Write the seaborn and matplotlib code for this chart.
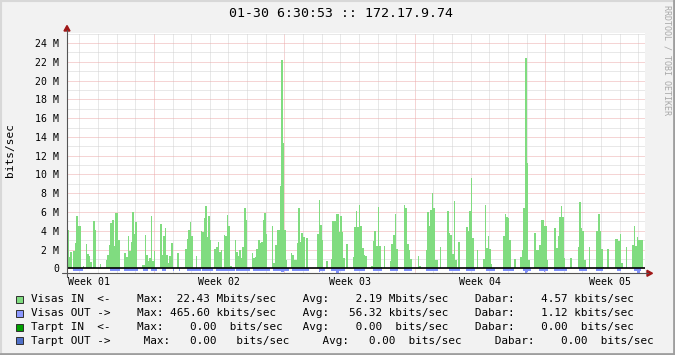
import numpy as np
import pandas as pd
import matplotlib
matplotlib.use("Agg")
import matplotlib.pyplot as plt
import matplotlib.transforms as mtransforms
from matplotlib.patches import Rectangle, Polygon
from matplotlib.lines import Line2D
import seaborn as sns

# ---------------- data (Mbit/s, 2-hour bins, 12 bins per day row) ----------------
BIN_HOURS = 2
visas_in_days = [
    [4.1, 1.2, 1.7, 0, 1.8, 2.7, 5.6, 4.5, 4.5, 0, 0.3, 0],
    [2.6, 1.5, 1.3, 0.7, 0, 5.0, 4.1, 0, 0, 0.5, 0, 0],
    [0, 0.9, 1.4, 2.5, 4.8, 5.2, 2.4, 5.9, 5.9, 3.0, 0, 0],
    [0, 1.6, 1.2, 3.4, 1.8, 2.8, 6.0, 3.7, 4.9, 0, 0, 0],
    [0.35, 0.35, 3.5, 1.4, 0.8, 1.1, 5.6, 0.8, 1.8, 0, 0, 0],
    [4.7, 1.4, 3.4, 4.25, 1.4, 0.6, 1.3, 2.7, 0, 0, 0, 1.6],
    [0, 0, 0, 0, 2.1, 3.1, 4.1, 4.9, 3.4, 0, 0, 1.3],
    [0, 0, 4.0, 3.9, 5.4, 6.6, 3.3, 5.6, 3.0, 0, 0, 2.1],
    [2.3, 2.8, 1.7, 1.9, 0, 3.5, 3.4, 5.7, 4.5, 0.2, 0, 0],
    [3.0, 1.7, 1.3, 1.9, 1.1, 2.3, 6.4, 5.2, 0, 0, 0, 1.6],
    [1.1, 1.2, 2.1, 3.0, 2.7, 2.8, 5.1, 5.9, 3.7, 0, 0, 0],
    [4.5, 0.6, 2.5, 4.1, 4.1, 8.75, 22.2, 13.3, 4.1, 0.9, 0, 0],
    [1.6, 1.4, 0.9, 0.9, 2.7, 6.4, 2.8, 3.8, 3.3, 0, 3.2, 0],
    [0, 0, 0, 0, 0, 3.7, 7.3, 4.6, 3.0, 0, 0, 0.8],
    [0, 0, 1.0, 5.0, 5.0, 5.8, 5.8, 3.9, 5.6, 3.9, 1.1, 0],
    [2.6, 0, 0, 0, 1.2, 4.4, 6.1, 4.4, 6.7, 4.5, 2.2, 1.4],
    [1.3, 0, 0, 0, 0.25, 2.9, 4.0, 2.4, 6.5, 2.4, 0.1, 0],
    [2.4, 0, 0, 0, 0.8, 2.6, 3.5, 5.8, 2.1, 0.1, 0, 0],
    [0, 6.7, 6.4, 2.6, 2.0, 1.0, 0, 0, 0, 0, 1.3, 0.25],
    [0, 0, 0, 1.95, 6.0, 4.5, 6.2, 8.0, 6.4, 0.9, 0.9, 0],
    [2.3, 0, 0, 0, 0, 6.1, 3.8, 3.5, 1.5, 7.2, 0.9, 0],
    [2.8, 0, 0, 0, 0, 4.4, 4.0, 6.1, 9.6, 3.2, 0, 0],
    [1.95, 0, 0, 0, 1.0, 6.7, 2.2, 3.4, 2.1, 0.5, 0, 0],
    [0, 0, 0, 0, 0, 3.4, 5.8, 5.5, 5.4, 3.0, 0, 0],
    [1.0, 0, 0, 0, 1.2, 2.0, 6.4, 22.43, 11.2, 0.9, 0, 0],
    [0, 3.8, 2.0, 2.0, 2.5, 5.1, 5.1, 4.5, 4.5, 0.9, 0, 0],
    [0, 0, 4.25, 2.2, 3.4, 5.5, 6.6, 5.5, 1.1, 0, 0, 0],
    [1.1, 0, 0, 0, 0, 2.3, 7.1, 4.25, 4.0, 0.9, 0, 0],
    [2.3, 0, 0, 0, 0, 4.0, 5.8, 4.0, 2.1, 0.1, 0, 0],
    [2.1, 0, 0, 0, 0, 3.1, 3.1, 2.9, 3.7, 0.6, 0, 0],
    [2.3, 0, 0, 0, 2.5, 4.5, 2.4, 3.3, 3.0, 3.0, 3.0, 0],
]
visas_out_days = [
    [0, 0, 0, 0, .24, .24, .24, .24, .24, .24, 0, 0],
    [0, 0, 0, 0, 0, 0, 0, 0, 0, 0, 0, 0],
    [0, 0, 0, 0, .24, .24, .24, .24, .24, .24, 0, 0],
    [0, .24, .24, .24, .24, .24, .24, .24, .24, .24, 0, 0],
    [0, .24, .24, .24, 0, 0, .24, .24, .24, .24, 0, 0],
    [0, .24, .24, .24, 0, 0, 0, 0, .24, 0, 0, 0],
    [.24, 0, 0, 0, 0, .24, .24, .24, .24, .24, .24, .24],
    [.24, .24, 0, .24, .24, .24, .24, .24, .24, .24, 0, 0],
    [.24, .24, .24, .24, .24, .24, .24, .32, .24, .24, .24, .24],
    [0, .24, .24, .24, .24, .24, .24, .24, .24, .24, 0, 0],
    [.24, .24, .24, .24, .24, .24, .24, .24, .24, .24, .24, 0],
    [0, .24, .24, .24, .24, .24, .42, .42, .24, .24, .24, 0],
    [0, .24, .24, .24, .24, .24, .24, .24, .24, .24, .24, .24],
    [0, 0, 0, 0, 0, 0, .36, .24, .24, .24, 0, 0],
    [0, 0, .24, .24, .24, .46, .46, .24, .24, .24, .24, 0],
    [0, 0, 0, 0, 0, .24, .24, .24, .24, .24, .24, .24],
    [0, 0, 0, 0, 0, .24, .24, .24, .24, .24, .24, 0],
    [0, 0, 0, 0, .24, .24, .24, .24, .24, 0, 0, 0],
    [0, .24, .24, .24, .24, .24, 0, 0, 0, 0, 0, 0],
    [0, 0, 0, .24, .24, .24, .24, .24, .24, .24, .24, 0],
    [0, 0, 0, 0, 0, 0, .24, .24, .24, .24, .24, .24],
    [.24, 0, 0, 0, 0, .24, .24, .24, .24, .24, .24, 0],
    [0, 0, 0, 0, 0, 0, .24, .24, .24, .24, .24, .24],
    [0, 0, 0, 0, 0, .24, .24, .24, .24, .24, .24, .24],
    [0, 0, 0, 0, 0, 0, .24, .4656, .34, .24, .24, 0],
    [0, 0, 0, 0, .24, .24, .24, .34, .24, .24, 0, 0],
    [0, 0, .24, .24, .24, .24, .24, .24, .24, .24, 0, 0],
    [0, 0, 0, 0, 0, 0, .24, .24, .24, .24, .24, 0],
    [0, 0, 0, 0, 0, .32, .24, .24, .24, 0, 0, 0],
    [0, 0, 0, 0, 0, 0, .24, .24, .24, 0, 0, 0],
    [0, 0, 0, 0, 0, .24, .24, .46, .46, .24, 0, 0],
]

week_labels = ["Week 01", "Week 02", "Week 03", "Week 04", "Week 05"]
first_week_boundary_h = 112
x_span_h = 744.6
y_ticks = list(range(0, 25, 2))
y_limits = (-0.53, 25.1)

title = "01-30 6:30:53 :: 172.17.9.74"
legend_rows = [
    "Visas IN  <-    Max:  22.43 Mbits/sec    Avg:    2.19 Mbits/sec    Dabar:    4.57 kbits/sec",
    "Visas OUT ->    Max: 465.60 kbits/sec    Avg:   56.32 kbits/sec    Dabar:    1.12 kbits/sec",
    "Tarpt IN  <-    Max:    0.00  bits/sec   Avg:    0.00  bits/sec    Dabar:    0.00  bits/sec",
    "Tarpt OUT ->     Max:   0.00   bits/sec     Avg:   0.00  bits/sec     Dabar:    0.00  bits/sec",
]
legend_colors = ["#80DC80", "#8C98FF", "#00A000", "#5070C8"]

GREEN = "#80DC80"
BLUE = "#8090F8"

# ---------------- figure ----------------
sns.set_theme(style="white")
plt.rcParams["font.family"] = ["DejaVu Sans Mono", "DejaVu Sans"]

W, H = 675, 355
fig = plt.figure(figsize=(W / 100, H / 100), dpi=100)
fig.patch.set_facecolor("#F2F2F2")

def fx(px):
    return px / W

def fy(py):
    return 1 - py / H

L, R, T, B = 67, 645, 32.7, 273.3
ax = fig.add_axes([fx(L), fy(B), (R - L) / W, (B - T) / H])
ax.set_facecolor("white")

vin = np.array(visas_in_days, dtype=float).ravel()
vout = np.array(visas_out_days, dtype=float).ravel()
hours = np.arange(len(vin)) * BIN_HOURS + BIN_HOURS / 2
df = pd.DataFrame({"hour": hours, "in": vin, "out": -vout})

sns.barplot(data=df, x="hour", y="in", native_scale=True, width=1,
            color=GREEN, saturation=1, linewidth=0, errorbar=None,
            antialiased=False, ax=ax, zorder=2)
sns.barplot(data=df, x="hour", y="out", native_scale=True, width=1,
            color=BLUE, saturation=1, linewidth=0, errorbar=None,
            antialiased=False, ax=ax, zorder=2)

ax.set_xlim(0, x_span_h)
ax.set_ylim(*y_limits)
ax.set_xlabel("")
ax.set_ylabel("")
for s in ax.spines.values():
    s.set_visible(False)

# grid
week_bounds = np.arange(first_week_boundary_h, x_span_h, 168)
day_bounds = np.arange(first_week_boundary_h % 24, x_span_h, 24)
ax.set_xticks(week_bounds)
ax.set_xticks(day_bounds, minor=True)
ax.set_xticklabels([])
ax.set_yticks(y_ticks)
ax.set_yticks(np.arange(1, 26, 2), minor=True)
ax.set_yticklabels(["0" if v == 0 else f"{v} M" for v in y_ticks])
ax.set_axisbelow(True)
ax.grid(which="minor", color="#D2D2D2", linestyle=(0, (1, 1)), linewidth=0.72)
ax.grid(which="major", color="#EDAAAA", linestyle=(0, (1, 1)), linewidth=0.72)
ax.tick_params(axis="y", which="major", length=2.5, width=0.7, color="#555555",
               labelsize=7.1, pad=3, labelcolor="#000000")
ax.tick_params(axis="y", which="minor", length=1.8, width=0.7, color="#555555")
ax.tick_params(axis="x", which="major", length=2.5, width=0.7, color="#555555")
ax.tick_params(axis="x", which="minor", length=1.8, width=0.7, color="#555555")

ax.axhline(0, color="black", linewidth=1.2, zorder=3)

# week labels (centred in each week)
trans = mtransforms.blended_transform_factory(ax.transData, ax.transAxes)
for i, lab in enumerate(week_labels):
    xc = first_week_boundary_h - 84 + 168 * i
    ax.text(xc, -(281.7 - B) / (B - T), lab, transform=trans, ha="center",
            va="center", fontsize=7.1, color="black", clip_on=False)

# axis lines and arrows (figure pixel coordinates)
axis_col = "#555555"
arrow_col = "#A01818"
fig.add_artist(Line2D([fx(67), fx(67)], [fy(277), fy(30)], color=axis_col, lw=0.8))
fig.add_artist(Line2D([fx(62), fx(648)], [fy(B), fy(B)], color=axis_col, lw=0.8))
fig.add_artist(Polygon([[fx(64), fy(31)], [fx(70), fy(31)], [fx(67), fy(25.5)]],
                       closed=True, color=arrow_col, transform=fig.transFigure))
fig.add_artist(Polygon([[fx(647), fy(270.3)], [fx(647), fy(276.3)], [fx(652.5), fy(B)]],
                       closed=True, color=arrow_col, transform=fig.transFigure))

# texts
fig.text(fx(341.3), fy(13.8), title, ha="center", va="center", fontsize=9.5, color="black")
fig.text(fx(10.5), fy(150), "bits/sec", rotation=90, ha="center", va="center",
         fontsize=8, color="black")
fig.text(fx(667.5), fy(60), "RRDTOOL / TOBI OETIKER", rotation=270, ha="center",
         va="center", fontsize=6, color="#A8A8A8")

row_y = [299.5, 313.3, 327.0, 340.7]
for txt, col, yy in zip(legend_rows, legend_colors, row_y):
    fig.add_artist(Rectangle((fx(16), fy(yy + 3.5)), 7 / W, 7 / H, facecolor=col,
                             edgecolor="#303030", linewidth=0.7,
                             transform=fig.transFigure))
    fig.text(fx(31), fy(yy), txt, ha="left", va="center", fontsize=7.92, color="black")

# frame shading
fig.add_artist(Line2D([0, 1], [fy(0.75), fy(0.75)], color="#D8D8D8", lw=1.5))
fig.add_artist(Line2D([fx(0.75), fx(0.75)], [0, 1], color="#D8D8D8", lw=1.5))
fig.add_artist(Line2D([0, 1], [fy(354), fy(354)], color="#9E9E9E", lw=2))
fig.add_artist(Line2D([fx(674), fx(674)], [0, 1], color="#9E9E9E", lw=2))

fig.savefig("out.png", dpi=100, facecolor=fig.get_facecolor())
